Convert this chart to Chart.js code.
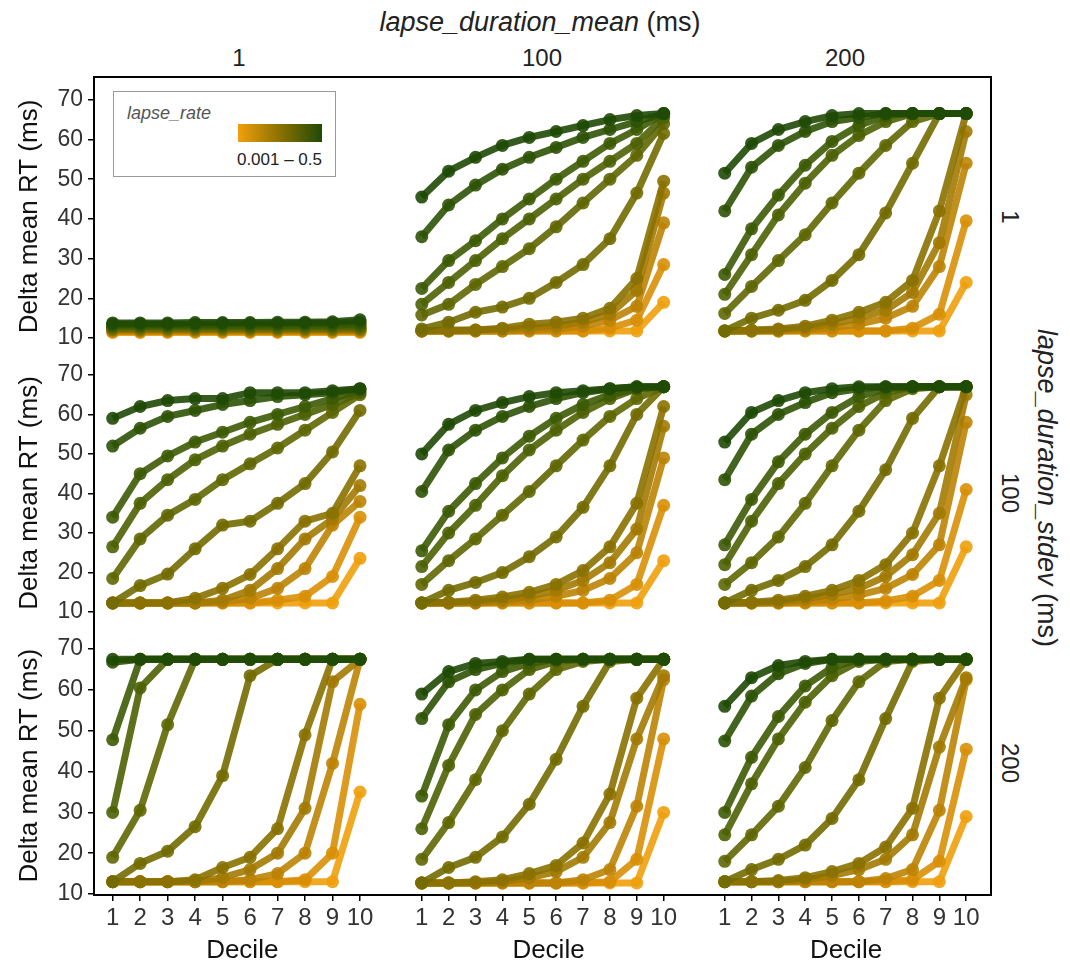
<!DOCTYPE html>
<html>
<head>
<meta charset="utf-8">
<script src="https://cdn.jsdelivr.net/npm/chart.js@4.4.1/dist/chart.umd.min.js"></script>
<style>
    body {
        margin: 0;
        width: 1070px;
        height: 975px;
        background: #fff;
        position: relative;
        overflow: hidden;
        font-family: 'Liberation Sans', Arial, sans-serif;
        color: #222;
    }
    .label {
        position: absolute;
        transform: translate(-50%, -50%);
        white-space: nowrap;
    }
    .vertical {
        transform: translate(-50%, -50%) rotate(90deg);
    }
    #frame {
        position: absolute;
        left: 93px;
        top: 76px;
        width: 899px;
        height: 820px;
        box-sizing: border-box;
        border: 2px solid #000;
        pointer-events: none;
    }
    #legend {
        position: absolute;
        left: 113px;
        top: 91px;
        width: 223px;
        height: 86px;
        box-sizing: border-box;
        border: 1px solid #999;
        background: #fff;
    }
    #legend .name {
        position: absolute;
        left: 13px;
        top: 11px;
        font-size: 18px;
        font-style: italic;
        color: #555;
    }
    #legend .bar {
        position: absolute;
        left: 124px;
        top: 32px;
        width: 84px;
        height: 18px;
        background: linear-gradient(to right, #f0a00c, #8a7100 50%, #1f4a06);
    }
    #legend .range {
        position: absolute;
        right: 13px;
        top: 58px;
        font-size: 17px;
        color: #222;
    }
</style>
</head>
<body>
<div id="grid"></div>
<div id="frame"></div>

<div class="label" style="left:540px; top:22px; font-size:27px;"><i>lapse_duration_mean</i> (ms)</div>
<div id="colHeads"></div>
<div id="rowHeads"></div>
<div class="label vertical" style="left:1046px; top:488px; font-size:27px;"><i>lapse_duration_stdev</i> (ms)</div>

<div id="legend">
    <div class="name">lapse_rate</div>
    <div class="bar"></div>
    <div class="range">0.001 – 0.5</div>
</div>

<script>
const deciles = [1, 2, 3, 4, 5, 6, 7, 8, 9, 10];
const yTicks = [10, 20, 30, 40, 50, 60, 70];
const meanLevels = ['1', '100', '200'];
const stdevLevels = ['1', '100', '200'];

// one colour per lapse_rate, dark green (0.5) to orange (0.001)
const lapseColors = ['#1f4a06', '#2d5305', '#3d5b04', '#4e6203', '#5f6702', '#726b01', '#8a7100', '#a37a02', '#bd8304', '#d88f06', '#f0a00c'];

// rows: lapse_duration_stdev, columns: lapse_duration_mean
const m1_s1 = [
    [13.8, 13.8, 13.8, 13.9, 13.9, 13.9, 14.0, 14.0, 14.1, 14.6],
    [13.5, 13.5, 13.5, 13.5, 13.6, 13.6, 13.6, 13.7, 13.7, 14.0],
    [13.2, 13.2, 13.2, 13.2, 13.2, 13.2, 13.3, 13.3, 13.3, 13.5],
    [12.9, 12.9, 12.9, 12.9, 12.9, 12.9, 12.9, 13.0, 13.0, 13.1],
    [12.7, 12.7, 12.7, 12.7, 12.7, 12.7, 12.7, 12.7, 12.7, 12.8],
    [12.4, 12.4, 12.4, 12.4, 12.4, 12.4, 12.4, 12.4, 12.4, 12.5],
    [12.2, 12.2, 12.2, 12.2, 12.2, 12.2, 12.2, 12.2, 12.2, 12.2],
    [12.0, 12.0, 12.0, 12.0, 12.0, 12.0, 12.0, 12.0, 12.0, 12.0],
    [11.8, 11.8, 11.8, 11.8, 11.8, 11.8, 11.8, 11.8, 11.8, 11.8],
    [11.6, 11.6, 11.6, 11.6, 11.6, 11.6, 11.6, 11.6, 11.6, 11.6],
    [11.4, 11.4, 11.4, 11.4, 11.4, 11.4, 11.4, 11.4, 11.4, 11.4],
];
const m100_s1 = [
    [45.5, 52, 55.5, 58.5, 60.5, 62, 63.5, 65, 66, 66.5],
    [35.5, 43.5, 48.5, 52.5, 55.5, 58, 60.5, 62.5, 64.5, 66.5],
    [22.5, 29.5, 34.5, 40, 45, 50, 54.5, 59, 62.5, 66.5],
    [18.5, 24, 29.5, 35, 40, 45, 50, 54.5, 59, 65.5],
    [15.8, 18.5, 23.5, 28, 32.5, 38, 44, 50, 56, 64],
    [12.3, 14, 16.5, 17.8, 20, 24, 28.5, 35, 46.5, 61.5],
    [11.8, 12, 12, 12.5, 13.5, 14, 15, 17.5, 25, 49.5],
    [11.8, 11.8, 12, 12.2, 12.5, 13, 14, 16, 22, 46.5],
    [11.8, 11.8, 11.8, 11.8, 12, 12.3, 13, 14.5, 18, 39],
    [11.8, 11.8, 11.8, 11.8, 11.8, 11.8, 11.8, 12.5, 14.5, 28.5],
    [11.8, 11.8, 11.8, 11.8, 11.8, 11.8, 11.8, 11.8, 11.8, 19],
];
const m200_s1 = [
    [51.5, 59, 62.5, 64.5, 66, 66.5, 66.5, 66.5, 66.5, 66.5],
    [42, 53, 58.5, 62, 64.5, 65.5, 66.5, 66.5, 66.5, 66.5],
    [26, 37.5, 46, 53.5, 59.5, 63.5, 66, 66.5, 66.5, 66.5],
    [21, 31, 41, 49, 56, 61, 64.5, 66.5, 66.5, 66.5],
    [16.2, 23, 29.5, 36, 44, 51.5, 58.5, 64.5, 66.5, 66.5],
    [11.8, 15, 17, 19.5, 24.5, 31, 41.5, 54, 66.5, 66.5],
    [11.8, 12, 12.3, 13, 14.5, 16.5, 19, 24.5, 42, 66.5],
    [11.8, 11.8, 12, 12.5, 13.5, 15, 17, 21.5, 34, 62],
    [11.8, 11.8, 11.8, 12, 12.5, 13.5, 15, 18, 28, 54],
    [11.8, 11.8, 11.8, 11.8, 11.8, 11.8, 11.8, 12.5, 16, 39.5],
    [11.8, 11.8, 11.8, 11.8, 11.8, 11.8, 11.8, 11.8, 11.8, 24],
];

const m1_s100 = [
    [59, 62, 63.5, 64, 64, 65.5, 65.5, 65.5, 66, 66.5],
    [52, 56.5, 59.5, 61, 62.5, 63.5, 64.5, 65, 65.5, 66.5],
    [34, 45, 49.5, 53, 55.5, 58, 60, 62, 64, 66],
    [26.5, 37.5, 43.5, 48.5, 52, 55, 57.5, 60, 62.5, 65.5],
    [18.5, 28.5, 34.5, 38.5, 43.5, 47.5, 51.5, 56, 60.5, 65],
    [12.3, 16.7, 19.6, 26, 32, 33, 37.5, 42.5, 50.5, 61],
    [12.3, 12.3, 12.3, 13.5, 16, 19.5, 26, 33, 35, 47],
    [12.3, 12.3, 12.3, 12.3, 13, 15.5, 21, 28.5, 33.5, 42],
    [12.3, 12.3, 12.3, 12.3, 12.5, 13.5, 16, 21, 32, 38],
    [12.3, 12.3, 12.3, 12.3, 12.3, 12.3, 13, 14, 19, 34],
    [12.3, 12.3, 12.3, 12.3, 12.3, 12.3, 12.3, 12.3, 12.3, 23.6],
];
const m100_s100 = [
    [50, 57.5, 61, 63, 64.5, 65.5, 66, 66.5, 67, 67],
    [40.5, 51, 56, 59.5, 62, 64, 65.5, 66.5, 67, 67],
    [25.5, 35.5, 42.5, 49, 54.5, 59, 62.5, 65, 66.5, 67],
    [21.5, 30, 37, 44.5, 51, 56, 60.5, 64, 66.5, 67],
    [17, 23, 28.5, 34.5, 40.5, 47, 53.5, 59.5, 64, 67],
    [12.3, 15.5, 17.5, 20, 24, 29, 36.5, 47, 60, 67],
    [12.3, 12.5, 13, 13.8, 15, 17, 20.5, 26.5, 37.5, 62],
    [12.3, 12.3, 12.5, 13, 14, 15.5, 18, 22.5, 31, 57],
    [12.3, 12.3, 12.3, 12.5, 13, 14, 15.5, 18.5, 25, 49],
    [12.3, 12.3, 12.3, 12.3, 12.3, 12.3, 12.3, 13, 17, 37],
    [12.3, 12.3, 12.3, 12.3, 12.3, 12.3, 12.3, 12.3, 12.3, 23],
];
const m200_s100 = [
    [53, 60.5, 63.5, 65.5, 66.5, 67, 67, 67, 67, 67],
    [43.5, 55, 60, 63, 65.5, 66.5, 67, 67, 67, 67],
    [27, 38.5, 48, 55, 60.5, 64.5, 66.5, 67, 67, 67],
    [22, 33, 42.5, 50, 56.5, 62, 65.5, 67, 67, 67],
    [17, 22.5, 29, 37.5, 47, 56, 63.5, 66.5, 67, 67],
    [12.3, 15.5, 18, 21.5, 27, 35.5, 46, 59, 67, 67],
    [12.3, 12.5, 13, 14, 15.5, 18, 22, 30, 47, 67],
    [12.3, 12.3, 12.5, 13.3, 14.5, 16, 19, 24.5, 35, 65],
    [12.3, 12.3, 12.3, 12.5, 13.2, 14.3, 16, 19.5, 27, 58],
    [12.3, 12.3, 12.3, 12.3, 12.3, 12.3, 12.8, 14, 18, 41],
    [12.3, 12.3, 12.3, 12.3, 12.3, 12.3, 12.3, 12.3, 12.3, 26.5],
];

const m1_s200 = [
    [67.5, 67.5, 67.5, 67.5, 67.5, 67.5, 67.5, 67.5, 67.5, 67.5],
    [66.8, 67.5, 67.5, 67.5, 67.5, 67.5, 67.5, 67.5, 67.5, 67.5],
    [47.8, 67.5, 67.5, 67.5, 67.5, 67.5, 67.5, 67.5, 67.5, 67.5],
    [30, 60.5, 67.5, 67.5, 67.5, 67.5, 67.5, 67.5, 67.5, 67.5],
    [19, 30.5, 51.5, 67.5, 67.5, 67.5, 67.5, 67.5, 67.5, 67.5],
    [13, 17.5, 20.5, 26.5, 39, 63.5, 67.5, 67.5, 67.5, 67.5],
    [13, 13, 13, 13.5, 16.5, 19, 26, 49, 67.5, 67.5],
    [13, 13, 13, 13, 14, 16, 20, 31, 62, 67.5],
    [13, 13, 13, 13, 13, 13.5, 15, 20, 42, 67.5],
    [13, 13, 13, 13, 13, 13, 13, 13.5, 20, 56.5],
    [13, 13, 13, 13, 13, 13, 13, 13, 13, 35],
];
const m100_s200 = [
    [59, 64.5, 66.5, 67, 67.5, 67.5, 67.5, 67.5, 67.5, 67.5],
    [53, 62, 65, 66.5, 67.5, 67.5, 67.5, 67.5, 67.5, 67.5],
    [34, 51.5, 60, 64.5, 66.5, 67.5, 67.5, 67.5, 67.5, 67.5],
    [26, 41.5, 54, 60, 65, 67, 67.5, 67.5, 67.5, 67.5],
    [18.5, 27.5, 38, 50, 59, 65, 67, 67.5, 67.5, 67.5],
    [12.7, 16.5, 19, 24, 32, 43, 56, 67, 67.5, 67.5],
    [12.7, 12.7, 13, 13.5, 15, 17, 22.5, 34.5, 58, 67.5],
    [12.7, 12.7, 12.7, 13, 14, 15.5, 19, 27.5, 48, 63.5],
    [12.7, 12.7, 12.7, 12.7, 12.7, 12.7, 13.5, 16, 31.5, 62.5],
    [12.7, 12.7, 12.7, 12.7, 12.7, 12.7, 12.7, 13, 18.5, 48],
    [12.7, 12.7, 12.7, 12.7, 12.7, 12.7, 12.7, 12.7, 12.7, 30],
];
const m200_s200 = [
    [56, 63, 66, 67, 67.5, 67.5, 67.5, 67.5, 67.5, 67.5],
    [47.5, 58.5, 64, 66.5, 67.5, 67.5, 67.5, 67.5, 67.5, 67.5],
    [30, 43.5, 53.5, 61, 65.5, 67.5, 67.5, 67.5, 67.5, 67.5],
    [24.5, 37, 48, 57, 63.5, 67, 67.5, 67.5, 67.5, 67.5],
    [18, 24.5, 31.5, 41, 52.5, 62, 67, 67.5, 67.5, 67.5],
    [13, 16, 18.5, 22, 28.5, 38, 53, 67, 67.5, 67.5],
    [13, 13, 13.3, 14, 15.5, 17.5, 21.5, 31, 58, 67.5],
    [13, 13, 13, 13.5, 14.5, 16, 18.5, 24.5, 46, 63],
    [13, 13, 13, 13, 13, 13, 13.8, 16, 30.5, 62.5],
    [13, 13, 13, 13, 13, 13, 13, 13.5, 18, 45.5],
    [13, 13, 13, 13, 13, 13, 13, 13, 13, 29],
];

const panels = [
    [m1_s1, m100_s1, m200_s1],
    [m1_s100, m100_s100, m200_s100],
    [m1_s200, m100_s200, m200_s200],
];

// panel geometry (plot areas, in page pixels)
const colLeft = [94, 397, 700];
const colWidth = [303, 303, 292];
const colRange = [[0.32, 11.11], [0.32, 11.11], [0.32, 10.72]];
const rowTop = [77, 356, 630];
const rowHeight = [279, 274, 265];
const rowRange = [[7.12, 74.08], [7.11, 73.13], [9.76, 73.1]];
const yAxisWidth = 94;
const xAxisHeight = 80;
const headCenters = [239, 542, 845];

Chart.defaults.font.family = "'Liberation Sans', Arial, sans-serif";

function noPadding(scale) {
    scale.paddingTop = 0;
    scale.paddingBottom = 0;
    scale.paddingLeft = 0;
    scale.paddingRight = 0;
}

function renderPanel(series, r, c) {
    const showY = c === 0;
    const showX = r === panels.length - 1;
    const left = showY ? colLeft[c] - yAxisWidth : colLeft[c];
    const width = colWidth[c] + (showY ? yAxisWidth : 0);
    const height = rowHeight[r] + (showX ? xAxisHeight : 0);

    const canvas = document.createElement('canvas');
    canvas.width = width;
    canvas.height = height;
    canvas.style.cssText = `position:absolute;left:${left}px;top:${rowTop[r]}px;width:${width}px;height:${height}px;`;
    document.getElementById('grid').appendChild(canvas);

    const tickStyle = {
        drawOnChartArea: false,
        drawTicks: true,
        tickLength: 6,
        color: '#000',
        lineWidth: 1.5,
    };

    new Chart(canvas, {
        type: 'line',
        data: {
            datasets: series.map((values, i) => ({
                label: `lapse_rate ${i + 1}`,
                data: values.map((v, k) => ({ x: deciles[k], y: v })),
                borderColor: lapseColors[i] + 'e6',
                backgroundColor: lapseColors[i] + 'e6',
                borderWidth: 7,
                pointRadius: 6.5,
                pointBorderWidth: 0,
                tension: 0,
                clip: false,
            })),
        },
        options: {
            responsive: false,
            animation: false,
            events: [],
            layout: { padding: 0 },
            plugins: {
                legend: { display: false },
                tooltip: { enabled: false },
            },
            scales: {
                x: {
                    type: 'linear',
                    min: colRange[c][0],
                    max: colRange[c][1],
                    display: showX,
                    afterBuildTicks: (scale) => {
                        scale.ticks = deciles.map((v) => ({ value: v }));
                    },
                    afterFit: (scale) => {
                        scale.height = showX ? xAxisHeight : 0;
                        noPadding(scale);
                    },
                    grid: tickStyle,
                    border: { display: false },
                    ticks: {
                        autoSkip: false,
                        maxRotation: 0,
                        padding: 3,
                        color: '#333',
                        font: { size: 24 },
                    },
                    title: {
                        display: true,
                        text: 'Decile',
                        color: '#111',
                        font: { size: 26 },
                        padding: { top: 0, bottom: 9 },
                    },
                },
                y: {
                    type: 'linear',
                    min: rowRange[r][0],
                    max: rowRange[r][1],
                    display: showY,
                    afterBuildTicks: (scale) => {
                        scale.ticks = yTicks.map((v) => ({ value: v }));
                    },
                    afterFit: (scale) => {
                        scale.width = showY ? yAxisWidth : 0;
                        noPadding(scale);
                    },
                    grid: tickStyle,
                    border: { display: false },
                    ticks: {
                        padding: 5,
                        color: '#333',
                        font: { size: 23 },
                    },
                    title: {
                        display: true,
                        text: 'Delta mean RT (ms)',
                        color: '#111',
                        font: { size: 26 },
                        padding: { top: 14, bottom: 0 },
                    },
                },
            },
        },
    });
}

function renderHeads() {
    const colHeads = document.getElementById('colHeads');
    meanLevels.forEach((text, c) => {
        const el = document.createElement('div');
        el.className = 'label';
        el.style.cssText = `left:${headCenters[c]}px;top:58px;font-size:24px;`;
        el.textContent = text;
        colHeads.appendChild(el);
    });

    const rowHeads = document.getElementById('rowHeads');
    stdevLevels.forEach((text, r) => {
        const el = document.createElement('div');
        el.className = 'label vertical';
        el.style.cssText = `left:1010px;top:${rowTop[r] + rowHeight[r] / 2}px;font-size:24px;`;
        el.textContent = text;
        rowHeads.appendChild(el);
    });
}

panels.forEach((row, r) => row.forEach((series, c) => renderPanel(series, r, c)));
renderHeads();
</script>
</body>
</html>
